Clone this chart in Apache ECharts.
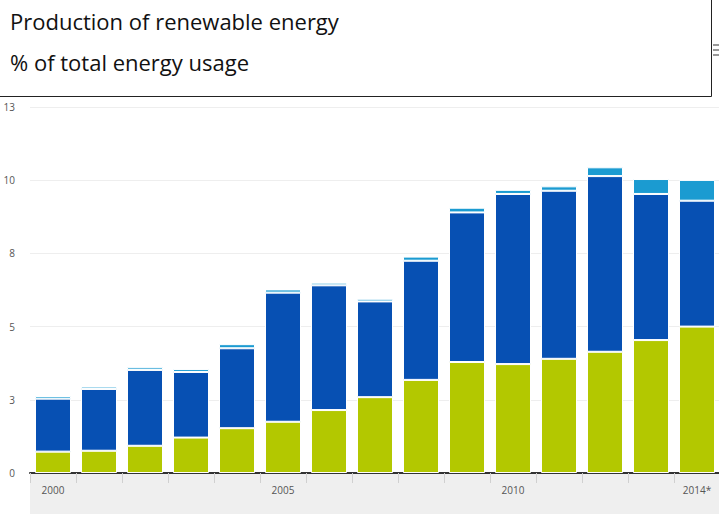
<!DOCTYPE html>
<html>
<head>
<meta charset="utf-8">
<script src="https://cdn.jsdelivr.net/npm/echarts@6/dist/echarts.min.js"></script>
<style>
html,body{margin:0;padding:0;background:#fff;}
#chart{width:719px;height:514px;}
</style>
</head>
<body>
<div id="chart"></div>
<script>
const categories = ['2000','2001','2002','2003','2004','2005','2006','2007','2008','2009','2010','2011','2012','2013','2014*'];
const greenValues = [0.73,0.76,0.93,1.21,1.53,1.75,2.15,2.59,3.18,3.79,3.72,3.90,4.14,4.54,5.00];
const blueValues  = [1.81,2.11,2.59,2.24,2.73,4.41,4.26,3.27,4.07,5.11,5.81,5.74,6.00,4.99,4.30];
const lightValues = [0.09,0.08,0.09,0.10,0.14,0.11,0.09,0.09,0.14,0.16,0.14,0.15,0.30,0.51,0.71];
const yTicks = { min: 0, max: 12.5, step: 2.5 };
const titleText = 'Production of renewable energy';
const subtitleText = '% of total energy usage';
const labelIdx = [0, 5, 10, 14];

const chart = echarts.init(document.getElementById('chart'), null, { renderer: 'svg' });
const barStyle = (color) => ({ color: color, borderColor: '#ffffff', borderWidth: 1 });
chart.setOption({
  animation: false,
  backgroundColor: '#ffffff',
  grid: { left: 30, top: 107, width: 690, height: 366, outerBoundsMode: 'none', containLabel: false },
  xAxis: {
    type: 'category',
    data: categories,
    axisLine: { lineStyle: { color: '#333333', width: 2 } },
    axisTick: { show: true, interval: 0, length: 10, lineStyle: { color: '#d0d0d0' } },
    axisLabel: {
      interval: (i) => labelIdx.indexOf(i) >= 0,
      color: '#555555', fontSize: 10, margin: 12, fontFamily: 'Open Sans'
    }
  },
  yAxis: {
    type: 'value',
    min: yTicks.min, max: yTicks.max, interval: yTicks.step,
    axisLine: { show: false },
    axisTick: { show: false },
    axisLabel: { formatter: (v) => String(Math.round(v)), color: '#555555', fontSize: 10, margin: 15, fontFamily: 'Open Sans' },
    splitLine: { lineStyle: { color: '#eeeeee', width: 1 } }
  },
  series: [
    { name: 'a', type: 'bar', stack: 's', barWidth: 36, data: greenValues, itemStyle: barStyle('#b3c800') },
    { name: 'b', type: 'bar', stack: 's', barWidth: 36, data: blueValues, itemStyle: barStyle('#0750b3') },
    { name: 'c', type: 'bar', stack: 's', barWidth: 36, data: lightValues, itemStyle: barStyle('#1b9bd1') }
  ],
  graphic: [
    { type: 'rect', left: 30, top: 474, z: -1, silent: true, shape: { width: 690, height: 40 }, style: { fill: '#efefef' } },
    { type: 'rect', left: 713, top: 44, z: 1, shape: { width: 6, height: 2 }, style: { fill: '#999' } },
    { type: 'rect', left: 713, top: 49, z: 1, shape: { width: 6, height: 2 }, style: { fill: '#999' } },
    { type: 'rect', left: 713, top: 54, z: 1, shape: { width: 6, height: 2 }, style: { fill: '#999' } },
    { type: 'rect', left: -2, top: -2, z: 100, shape: { width: 713, height: 98 }, style: { fill: '#ffffff', stroke: '#222222', lineWidth: 1 } },
    { type: 'text', left: 10, top: 10, z: 101, style: { text: titleText, fill: '#111111', fontSize: 22, fontFamily: 'Open Sans' } },
    { type: 'text', left: 10, top: 51, z: 101, style: { text: subtitleText, fill: '#111111', fontSize: 22, fontFamily: 'Open Sans' } }
  ]
});
</script>
</body>
</html>
